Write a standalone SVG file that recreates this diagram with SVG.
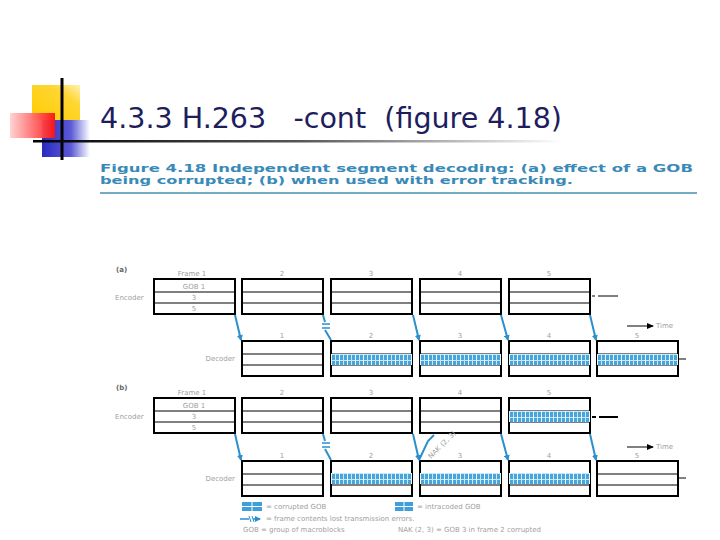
<svg xmlns="http://www.w3.org/2000/svg" width="720" height="540" viewBox="0 0 720 540">
<defs>
<linearGradient id="gy" x1="0" y1="1" x2="1" y2="0"><stop offset="0" stop-color="#ffcc00"/><stop offset="0.7" stop-color="#ffd633"/><stop offset="1" stop-color="#fff2b0"/></linearGradient>
<linearGradient id="gr" x1="0" y1="0" x2="1" y2="0"><stop offset="0" stop-color="#ffd0d0"/><stop offset="1" stop-color="#ff1010"/></linearGradient>
<linearGradient id="gb" x1="0" y1="0" x2="1" y2="0"><stop offset="0" stop-color="#2a2ac0"/><stop offset="0.6" stop-color="#5a5ad6"/><stop offset="1" stop-color="#ffffff"/></linearGradient>
<linearGradient id="gl" x1="0" y1="0" x2="1" y2="0"><stop offset="0" stop-color="#000"/><stop offset="0.5" stop-color="#555"/><stop offset="1" stop-color="#fff"/></linearGradient>
<pattern id="grid" width="8" height="6" patternUnits="userSpaceOnUse">
<rect width="8" height="6" fill="#46a6dc"/>
<rect x="0" y="0" width="8" height="1" fill="#c8e8f7"/>
<rect x="0" y="0" width="1" height="6" fill="#eef8fd"/>
<rect x="4" y="0" width="1" height="6" fill="#c8e8f7"/>
</pattern>
<marker id="ah" markerWidth="6" markerHeight="6" refX="5" refY="3" orient="auto" markerUnits="userSpaceOnUse"><path d="M0,0 L6,3 L0,6 z" fill="#2a8fcc"/></marker>
<marker id="ak" markerWidth="7" markerHeight="6" refX="6" refY="3" orient="auto" markerUnits="userSpaceOnUse"><path d="M0,0 L7,3 L0,6 z" fill="#000"/></marker>
<style>
.box{fill:#fff;stroke:#000;stroke-width:2}
.in{stroke:#000;stroke-width:1}
.lb{font-family:"DejaVu Sans",sans-serif;font-size:7px;fill:#a0a0a0}
.lbm{font-family:"DejaVu Sans",sans-serif;font-size:7px;fill:#a0a0a0;text-anchor:middle}
.hd{font-family:"DejaVu Sans",sans-serif;font-size:7px;font-weight:bold;fill:#666}
.cn{stroke:#2a8fcc;stroke-width:2;fill:none}
.cap{font-family:"DejaVu Sans",sans-serif;font-size:11px;font-weight:bold;fill:#3a8ab8}
</style>
<g id="fr">
<rect class="box" x="0" y="0" width="81" height="35"/>
<line class="in" x1="0" y1="13" x2="81" y2="13"/>
<line class="in" x1="0" y1="24" x2="81" y2="24"/>
</g>
</defs>
<rect width="720" height="540" fill="#fff"/>

<g id="logo">
<rect x="32" y="85" width="48" height="35" fill="url(#gy)"/>
<rect x="42" y="120" width="48" height="37" fill="url(#gb)"/>
<rect x="10" y="113" width="45" height="25" fill="url(#gr)" opacity="0.95"/>
<line x1="62" y1="78" x2="62" y2="160" stroke="#000" stroke-width="3"/>
<rect x="33" y="140" width="530" height="2.5" fill="url(#gl)"/>
</g>

<g id="title">
<text x="100" y="128" font-family="DejaVu Sans, sans-serif" font-size="28" fill="#1e1e5e" textLength="462" lengthAdjust="spacingAndGlyphs" xml:space="preserve">4.3.3 H.263   -cont  (figure 4.18)</text>
</g>

<g id="caption">
<text class="cap" x="100" y="172" textLength="593" lengthAdjust="spacingAndGlyphs">Figure 4.18  Independent segment decoding: (a) effect of a GOB</text>
<text class="cap" x="100" y="184" textLength="473" lengthAdjust="spacingAndGlyphs">being corrupted; (b) when used with error tracking.</text>
<line x1="100" y1="193" x2="697" y2="193" stroke="#4a8fb0" stroke-width="1.5"/>
</g>

<!-- Part (a) -->
<g id="part-a">
<text class="hd" x="116" y="272">(a)</text>
<text class="lbm" x="192" y="276">Frame 1</text>
<text class="lbm" x="282" y="276">2</text>
<text class="lbm" x="371" y="276">3</text>
<text class="lbm" x="460" y="276">4</text>
<text class="lbm" x="549" y="276">5</text>
<text class="lb" x="115" y="300">Encoder</text>
<g id="a-enc1"><use href="#fr" x="154" y="279"/>
<text class="lbm" x="194" y="289">GOB 1</text><text class="lbm" x="194" y="300">3</text><text class="lbm" x="194" y="311">5</text></g>
<g id="a-enc2"><use href="#fr" x="242" y="279"/></g>
<g id="a-enc3"><use href="#fr" x="331" y="279"/></g>
<g id="a-enc4"><use href="#fr" x="420" y="279"/></g>
<g id="a-enc5"><use href="#fr" x="509" y="279"/></g>
<line x1="592" y1="296" x2="595" y2="296" stroke="#000" stroke-width="1"/>
<line x1="598" y1="296" x2="618" y2="296" stroke="#000" stroke-width="1"/>

<line x1="627" y1="326" x2="653" y2="326" stroke="#000" stroke-width="1" marker-end="url(#ak)"/>
<text class="lb" x="656" y="328">Time</text>

<text class="lbm" x="282" y="338">1</text>
<text class="lbm" x="371" y="338">2</text>
<text class="lbm" x="460" y="338">3</text>
<text class="lbm" x="549" y="338">4</text>
<text class="lbm" x="637" y="338">5</text>
<text class="lb" x="235" y="361" text-anchor="end">Decoder</text>
<g id="a-dec1"><use href="#fr" x="242" y="341"/></g>
<g id="a-dec2"><use href="#fr" x="331" y="341"/><g transform="translate(331,354)"><rect width="81" height="11" fill="url(#grid)"/></g></g>
<g id="a-dec3"><use href="#fr" x="420" y="341"/><g transform="translate(420,354)"><rect width="81" height="11" fill="url(#grid)"/></g></g>
<g id="a-dec4"><use href="#fr" x="509" y="341"/><g transform="translate(509,354)"><rect width="81" height="11" fill="url(#grid)"/></g></g>
<g id="a-dec5"><use href="#fr" x="597" y="341"/><g transform="translate(597,354)"><rect width="81" height="11" fill="url(#grid)"/></g></g>
<line x1="679" y1="359" x2="686" y2="359" stroke="#000" stroke-width="1"/>
</g>

<!-- Part (b) -->
<g id="part-b">
<text class="hd" x="116" y="390">(b)</text>
<text class="lbm" x="192" y="395">Frame 1</text>
<text class="lbm" x="282" y="395">2</text>
<text class="lbm" x="371" y="395">3</text>
<text class="lbm" x="460" y="395">4</text>
<text class="lbm" x="549" y="395">5</text>
<text class="lb" x="115" y="419">Encoder</text>
<g id="b-enc1"><use href="#fr" x="154" y="398"/>
<text class="lbm" x="194" y="408">GOB 1</text><text class="lbm" x="194" y="419">3</text><text class="lbm" x="194" y="430">5</text></g>
<g id="b-enc2"><use href="#fr" x="242" y="398"/></g>
<g id="b-enc3"><use href="#fr" x="331" y="398"/></g>
<g id="b-enc4"><use href="#fr" x="420" y="398"/></g>
<g id="b-enc5"><use href="#fr" x="509" y="398"/><g transform="translate(509,411)"><rect width="81" height="11" fill="url(#grid)"/></g></g>
<line x1="592" y1="417" x2="596" y2="417" stroke="#000" stroke-width="2"/>
<line x1="599" y1="417" x2="618" y2="417" stroke="#000" stroke-width="2"/>

<line x1="627" y1="447" x2="653" y2="447" stroke="#000" stroke-width="1" marker-end="url(#ak)"/>
<text class="lb" x="656" y="449">Time</text>

<text class="lbm" x="282" y="458">1</text>
<text class="lbm" x="371" y="458">2</text>
<text class="lbm" x="460" y="458">3</text>
<text class="lbm" x="549" y="458">4</text>
<text class="lbm" x="637" y="458">5</text>
<text class="lb" x="235" y="481" text-anchor="end">Decoder</text>
<g id="b-dec1"><use href="#fr" x="242" y="461"/></g>
<g id="b-dec2"><use href="#fr" x="331" y="461"/><g transform="translate(331,473)"><rect width="81" height="11" fill="url(#grid)"/></g></g>
<g id="b-dec3"><use href="#fr" x="420" y="461"/><g transform="translate(420,473)"><rect width="81" height="11" fill="url(#grid)"/></g></g>
<g id="b-dec4"><use href="#fr" x="509" y="461"/><g transform="translate(509,473)"><rect width="81" height="11" fill="url(#grid)"/></g></g>
<g id="b-dec5"><use href="#fr" x="597" y="461"/></g>
<line x1="679" y1="478" x2="686" y2="478" stroke="#000" stroke-width="1"/>
<text class="lb" x="431" y="459" font-size="6" transform="rotate(-45 431 459)">NAK (2, 3)</text>
</g>

<g id="connectors">
<!-- (a) -->
<line class="cn" x1="235" y1="315" x2="241" y2="340" marker-end="url(#ah)"/>
<path class="cn" d="M323,315 L325,322 M325,330 L331,340"/>
<path d="M322,324 H330 M322,328 H330" stroke="#2a8fcc" stroke-width="1.5"/>
<line class="cn" x1="413" y1="315" x2="419" y2="340" marker-end="url(#ah)"/>
<line class="cn" x1="501" y1="315" x2="508" y2="340" marker-end="url(#ah)"/>
<line class="cn" x1="590" y1="315" x2="596" y2="340" marker-end="url(#ah)"/>
<!-- (b) -->
<line class="cn" x1="235" y1="434" x2="241" y2="460" marker-end="url(#ah)"/>
<path class="cn" d="M323,434 L325,441 M325,449 L331,460"/>
<path d="M322,443 H330 M322,447 H330" stroke="#2a8fcc" stroke-width="1.5"/>
<line class="cn" x1="413" y1="434" x2="419" y2="460" marker-end="url(#ah)"/>
<path class="cn" d="M419,460 L428,441 L434,435"/>
<line class="cn" x1="501" y1="434" x2="508" y2="460" marker-end="url(#ah)"/>
<line class="cn" x1="590" y1="434" x2="596" y2="460" marker-end="url(#ah)"/>
</g>

<g id="legend">
<g transform="translate(242,502)"><rect width="20" height="9" fill="#3f9fd8"/><path d="M0,4.5 H20 M10,0 V9" stroke="#fff" stroke-width="1"/></g>
<text class="lb" x="266" y="509">= corrupted GOB</text>
<g transform="translate(395,502)"><rect width="18" height="9" fill="#3f9fd8"/><path d="M0,4.5 H18 M9,0 V9" stroke="#fff" stroke-width="1"/></g>
<text class="lb" x="417" y="509">= intracoded GOB</text>
<path d="M240,519 H249 M253,519 H260" stroke="#2a8fcc" stroke-width="1.5" marker-end="url(#ah)"/>
<path d="M249,516 L251,522 M252,516 L254,522" stroke="#2a8fcc" stroke-width="1"/>
<text class="lb" x="266" y="521">= frame contents lost transmission errors.</text>
<text class="lb" x="243" y="532">GOB = group of macroblocks</text>
<text class="lb" x="398" y="532">NAK (2, 3) = GOB 3 in frame 2 corrupted</text>
</g>
</svg>
